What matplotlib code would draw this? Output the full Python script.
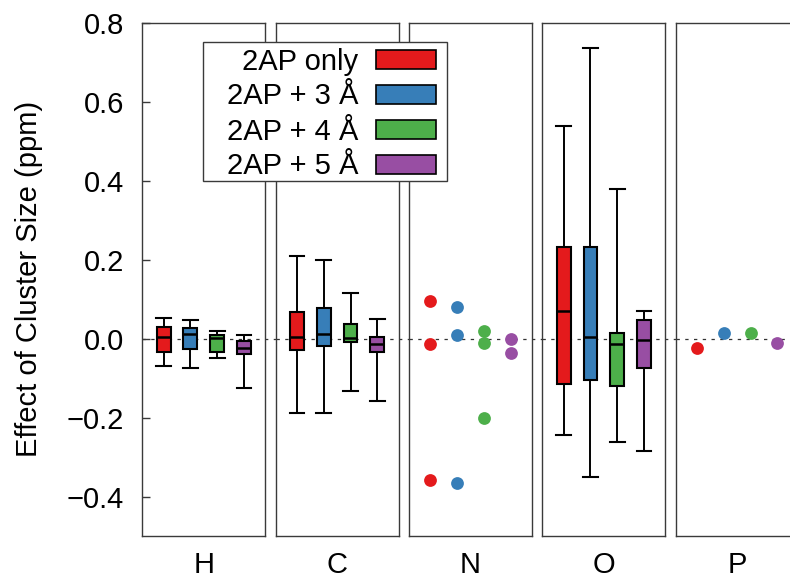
import matplotlib
matplotlib.use("Agg")
import matplotlib.pyplot as plt
from matplotlib.patches import Patch, Rectangle

plt.rcParams['font.family'] = ['Liberation Sans', 'DejaVu Sans']
plt.rcParams['lines.scale_dashes'] = False

# ---------------- data ----------------
atoms = ["H", "C", "N", "O", "P"]
series = ["2AP only", "2AP + 3 Å", "2AP + 4 Å", "2AP + 5 Å"]
colors = ["#E41A1C", "#377EB8", "#4DAF4A", "#984EA3"]

# box stats per series: (whislo, q1, median, q3, whishi)
H_stats = [(-0.070, -0.035, 0.004, 0.030, 0.052),
           (-0.075, -0.026, 0.012, 0.027, 0.047),
           (-0.048, -0.035, 0.001, 0.008, 0.019),
           (-0.126, -0.039, -0.025, -0.005, 0.008)]
C_stats = [(-0.189, -0.030, 0.005, 0.068, 0.210),
           (-0.188, -0.019, 0.011, 0.078, 0.200),
           (-0.134, -0.008, 0.002, 0.037, 0.116),
           (-0.158, -0.034, -0.014, 0.003, 0.050)]
O_stats = [(-0.243, -0.116, 0.069, 0.233, 0.539),
           (-0.350, -0.106, 0.003, 0.233, 0.737),
           (-0.261, -0.121, -0.015, 0.013, 0.378),
           (-0.284, -0.074, -0.003, 0.046, 0.069)]

# individual points per series
N_points = [[0.095, -0.013, -0.357],
            [0.081, 0.008, -0.365],
            [0.019, -0.010, -0.202],
            [-0.002, -0.037]]
P_points = [[-0.024], [0.015], [0.013], [-0.010]]

panel_data = {"H": ("box", H_stats), "C": ("box", C_stats),
              "N": ("pts", N_points), "O": ("box", O_stats),
              "P": ("pts", P_points)}

yticks = [-0.4, -0.2, 0.0, 0.2, 0.4, 0.6, 0.8]
ylabel = "Effect of Cluster Size (ppm)"

FS = 21

# ---------------- figure ----------------
W, H = 790, 579
fig = plt.figure(figsize=(W / 100, H / 100), dpi=100)

left0, pitch, pw = 142.3, 133.35, 123.0
top_px, bot_px = 22.7, 536.0
xlim = (0.2, 4.8)
gap_units = (pitch - pw) / pw * (xlim[1] - xlim[0])

axes = []
for i, atom in enumerate(atoms):
    l = left0 + i * pitch
    ax = fig.add_axes([l / W, (H - bot_px) / H, pw / W, (bot_px - top_px) / H])
    axes.append(ax)
    ax.set_xlim(*xlim)
    ax.set_ylim(-0.5, 0.8)
    for s in ax.spines.values():
        s.set_color("#3a3a3a")
        s.set_linewidth(1.0)
    # zero reference line (extends into the gap to the right)
    ax.plot([xlim[0], xlim[1] + gap_units], [0, 0], color="#333333", lw=0.9,
            linestyle=(0, (2.4, 3.9)), clip_on=False, zorder=1)
    kind, d = panel_data[atom]
    positions = [1, 2, 3, 4]
    if kind == "box":
        stats = []
        for (wl, q1, med, q3, wh) in d:
            stats.append(dict(whislo=wl, q1=q1, med=med, q3=q3, whishi=wh, fliers=[]))
        bp = ax.bxp(stats, positions=positions, widths=0.52, capwidths=0.55,
                    patch_artist=True, showfliers=False, manage_ticks=False,
                    boxprops=dict(edgecolor="black", linewidth=1.5),
                    whiskerprops=dict(color="black", linewidth=1.4),
                    capprops=dict(color="black", linewidth=1.5),
                    medianprops=dict(color="black", linewidth=1.8))
        for patch, c in zip(bp["boxes"], colors):
            patch.set_facecolor(c)
        for k in bp:
            for art in bp[k]:
                art.set_zorder(3)
    else:
        for p, vals, c in zip(positions, d, colors):
            ax.plot([p] * len(vals), vals, "o", color=c, markersize=9.2,
                    markeredgewidth=0, zorder=3, clip_on=False)
    ax.set_xticks([2.5])
    ax.set_xticklabels([atom])
    ax.tick_params(axis="x", length=0, pad=11, labelsize=FS)
    if i == 0:
        ax.set_yticks(yticks)
        ax.set_yticklabels([f"{v:.1f}".replace("-", "\u2212") for v in yticks])
        ax.tick_params(axis="y", direction="in", length=5.5, width=1.0,
                       color="#3a3a3a", pad=13, labelsize=FS)
        ax.set_ylabel(ylabel, fontsize=FS, labelpad=17)
    else:
        ax.set_yticks([])

# legend frame (drawn as a figure patch) and legend content
fig.patches.append(Rectangle((203 / W, 1 - 181 / H), (447 - 203) / W, (181 - 42.3) / H,
                             transform=fig.transFigure, facecolor="white",
                             edgecolor="#3a3a3a", linewidth=1.0, zorder=4))
handles = [Patch(facecolor=c, edgecolor="black", linewidth=1.2) for c in colors]
fig.legend(handles, series, loc="upper right",
           bbox_to_anchor=(436 / W, 1 - 47.5 / H), bbox_transform=fig.transFigure,
           borderaxespad=0, borderpad=0, markerfirst=False, fontsize=FS,
           frameon=False, handlelength=2.05, handleheight=0.61,
           handletextpad=0.61, labelspacing=0.24).set_zorder(5)

fig.savefig("out.png", dpi=100)
